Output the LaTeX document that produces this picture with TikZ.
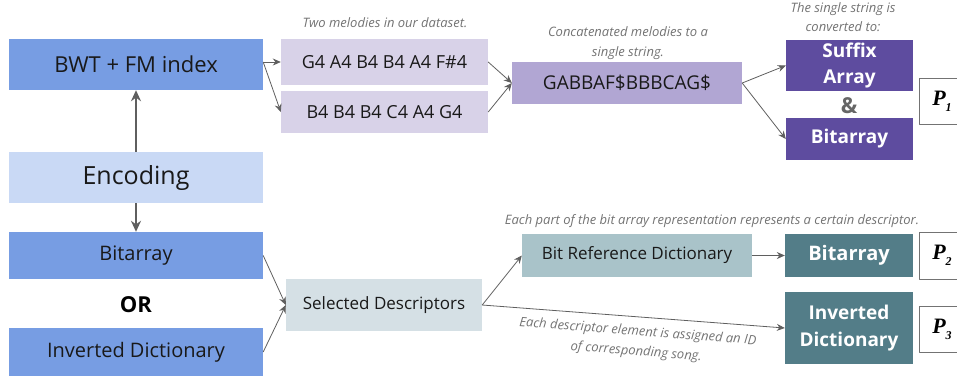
\documentclass[tikz,border=0pt]{standalone}
\usepackage{fontspec}
\setmainfont{Open Sans}
\newfontfamily\pfont{Liberation Serif}
\usetikzlibrary{arrows.meta}
\definecolor{blueA}{HTML}{779DE3}
\definecolor{blueB}{HTML}{C9D9F5}
\definecolor{lilaA}{HTML}{D8D2E8}
\definecolor{lilaB}{HTML}{B1A6D3}
\definecolor{lilaC}{HTML}{5E4C9F}
\definecolor{greyA}{HTML}{D5E0E5}
\definecolor{tealA}{HTML}{A9C3C9}
\definecolor{tealB}{HTML}{537D88}
\definecolor{lineC}{HTML}{5F5F5F}
\newcommand{\fs}[1]{\fontsize{#1}{#1}\selectfont}
\newcommand{\fsb}[2]{\fontsize{#1}{#2}\selectfont}
\begin{document}
\begin{tikzpicture}[x=1pt,y=-1pt,>={Stealth[length=8pt,width=7pt]},line join=round,
 box/.style={inner sep=0pt,text=black!90,align=center},
 dbox/.style={box,text=white,font=\fsb{19}{25}\bfseries},
 note/.style={font=\fsb{13}{17}\itshape,text=black!55,align=center},
 con/.style={->,draw=lineC,line width=0.8pt},
 pbox/.style={draw=black!55,fill=white,line width=0.8pt,minimum width=45,inner sep=0pt}]
\useasboundingbox (0,0) rectangle (957,376);
% left column
\node[box,fill=blueA,minimum width=254,minimum height=51,font=\fs{22}] (bwt) at (136,64.5) {BWT + FM index};
\node[box,fill=blueB,minimum width=254,minimum height=51,font=\fs{25}] (enc) at (136,177.5) {Encoding};
\node[box,fill=blueA,minimum width=254,minimum height=47,font=\fs{20}] (bitl) at (136,255.5) {Bitarray};
\node[font=\fs{22}\bfseries] (or) at (136,305) {OR};
\node[box,fill=blueA,minimum width=254,minimum height=48,font=\fs{20}] (invl) at (136,352) {Inverted Dictionary};
\draw[->,draw=lineC,line width=2pt,>={Stealth[length=11pt,width=10pt]}] (enc) -- (bwt);
\draw[->,draw=lineC,line width=2pt,>={Stealth[length=11pt,width=10pt]}] (enc) -- (bitl);
% melodies
\node[box,fill=lilaA,minimum width=207,minimum height=46,font=\fs{18}] (melA) at (384.5,62) {G4 A4 B4 B4 A4 F\#4};
\node[box,fill=lilaA,minimum width=207,minimum height=42,font=\fs{18}] (melB) at (384.5,112) {B4 B4 B4 C4 A4 G4};
\node[note] (capA) at (385,23) {Two melodies in our dataset.};
\node[box,fill=lilaB,minimum width=230,minimum height=42,font=\fs{19}] (concat) at (627,83) {GABBAF\$BBBCAG\$};
\node[note] (capB) at (628,43) {Concatenated melodies to a\\[3pt]single string.};
\node[dbox,fill=lilaC,minimum width=127,minimum height=51] (sa) at (849.5,65.5) {Suffix\\[1pt]Array};
\node[font=\fs{22}\bfseries,text=black!60] (amp) at (849,106) {\&};
\node[dbox,fill=lilaC,minimum width=127,minimum height=42] (bitt) at (849.5,139) {Bitarray};
\node[note] (capC) at (843,17.5) {The single string is\\[2pt]converted to:};
\node[pbox,minimum height=46,anchor=west] (p1) at (919,101) {};
\node[font=\pfont\fs{22}\bfseries\itshape] at (942,101) {P\raisebox{-6pt}{\fs{12}1}};
\draw[con] (bwt.east) ++(0,-2.5) coordinate (b0) -- (melA.west);
\draw[con] (b0) -- (melB.west);
\draw[con] (melA.east) -- (concat.west);
\draw[con] (melB.east) -- (concat.west);
\draw[con] (concat.east) -- (sa.west);
\draw[con] (concat.east) -- (bitt.west);
% descriptors
\node[box,fill=greyA,minimum width=196,minimum height=52,font=\fs{17}] (sel) at (384,305) {Selected Descriptors};
\node[box,fill=tealA,minimum width=230,minimum height=43,font=\fs{17}] (bitref) at (637,255.5) {Bit Reference Dictionary};
\node[note] (capD) at (712,221) {Each part of the bit array representation represents a certain descriptor.};
\node[dbox,fill=tealB,minimum width=128,minimum height=43,font=\fs{20}\bfseries] (bitr) at (849,255.5) {Bitarray};
\node[dbox,fill=tealB,minimum width=128,minimum height=72] (invr) at (849,328) {Inverted\\[2pt]Dictionary};
\node[note,rotate=-4.5] (capE) at (637,342) {Each descriptor element is assigned an ID\\[3pt]of corresponding song.};
\node[pbox,minimum height=47,anchor=west] (p2) at (919,255.5) {};
\node[font=\pfont\fs{22}\bfseries\itshape] at (942,255.5) {P\raisebox{-6pt}{\fs{12}2}};
\node[pbox,minimum height=46,anchor=west] (p3) at (919,329) {};
\node[font=\pfont\fs{22}\bfseries\itshape] at (942,329) {P\raisebox{-6pt}{\fs{12}3}};
\draw[con] (bitl.east) -- (sel.west);
\draw[con] (invl.east) -- (sel.west);
\draw[con] (sel.east) -- (bitref.west);
\draw[con] (sel.east) -- (invr.west);
\draw[con] (bitref.east) -- (bitr.west);
\end{tikzpicture}
\end{document}
